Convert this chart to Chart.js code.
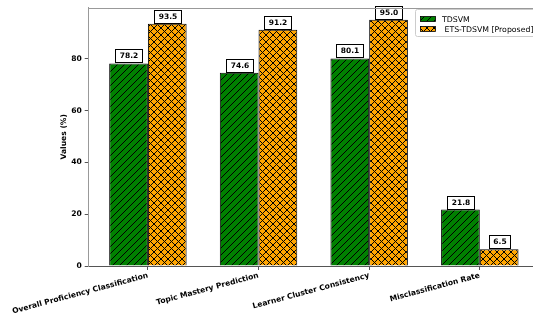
<!DOCTYPE html>
<html>
<head>
<meta charset="utf-8">
<script src="https://cdn.jsdelivr.net/npm/chart.js@4.4.1/dist/chart.umd.min.js"></script>
<style>
  html, body { margin: 0; padding: 0; background: #fff; overflow: hidden; }
  #wrap { width: 540px; height: 322px; position: relative; }
</style>
</head>
<body>
<div id="wrap"><canvas id="c"></canvas></div>
<script>
// Metric categories and the two model series (percent)
const categories = [
  'Overall Proficiency Classification',
  'Topic Mastery Prediction',
  'Learner Cluster Consistency',
  'Misclassification Rate'
];
const tdsvm = [78.2, 74.6, 80.1, 21.8];
const etsTdsvm = [93.5, 91.2, 95.0, 6.5];
const seriesNames = ['TDSVM', ' ETS-TDSVM [Proposed]'];
const yTicks = [0, 20, 40, 60, 80];

const FONT = '"DejaVu Sans", sans-serif';

// Hatched fill: diagonal "/" lines, optionally crossed with "\" lines
function hatch(bg, cross) {
  const s = 7;
  const c = document.createElement('canvas');
  c.width = s; c.height = s;
  const g = c.getContext('2d');
  g.fillStyle = bg;
  g.fillRect(0, 0, s, s);
  g.strokeStyle = '#000';
  g.lineWidth = 1;
  g.beginPath();
  g.moveTo(-1, s + 1); g.lineTo(s + 1, -1);
  g.moveTo(-1, 1); g.lineTo(1, -1);
  g.moveTo(s - 1, s + 1); g.lineTo(s + 1, s - 1);
  if (cross) {
    g.moveTo(-1, -1); g.lineTo(s + 1, s + 1);
    g.moveTo(-1, s - 1); g.lineTo(1, s + 1);
    g.moveTo(s - 1, -1); g.lineTo(s + 1, 1);
  }
  g.stroke();
  return g.createPattern(c, 'repeat');
}

const greenFill = hatch('#008000', false);
const orangeFill = hatch('#ffa500', true);

// Top/right spines of the axes box
const framePlugin = {
  id: 'frame',
  afterDraw(chart) {
    const { ctx, chartArea: a } = chart;
    ctx.save();
    ctx.strokeStyle = '#999';
    ctx.lineWidth = 1;
    ctx.beginPath();
    ctx.moveTo(a.left, Math.round(a.top) + 0.5);
    ctx.lineTo(a.right, Math.round(a.top) + 0.5);
    ctx.lineTo(a.right, a.bottom);
    ctx.stroke();
    ctx.restore();
  }
};

// Boxed value label above every bar
const valueLabels = {
  id: 'valueLabels',
  afterDatasetsDraw(chart) {
    const ctx = chart.ctx;
    ctx.save();
    ctx.font = 'bold 7.5px ' + FONT;
    ctx.textAlign = 'center';
    ctx.textBaseline = 'middle';
    chart.data.datasets.forEach((ds, di) => {
      chart.getDatasetMeta(di).data.forEach((bar, i) => {
        const txt = ds.data[i].y.toFixed(1);
        const w = Math.round(ctx.measureText(txt).width + 8);
        const h = 13;
        const x0 = Math.round(bar.x - w / 2) + 0.5;
        const y0 = Math.round(bar.y - 1 - h) + 0.5;
        ctx.fillStyle = '#fff';
        ctx.fillRect(x0, y0, w, h);
        ctx.strokeStyle = '#000';
        ctx.lineWidth = 1;
        ctx.strokeRect(x0, y0, w, h);
        ctx.fillStyle = '#000';
        ctx.fillText(txt, x0 + w / 2, y0 + h / 2 + 0.5);
      });
    });
    ctx.restore();
  }
};

// Legend in the upper right corner of the plot
const cornerLegend = {
  id: 'cornerLegend',
  afterDraw(chart) {
    const ctx = chart.ctx;
    const a = chart.chartArea;
    const x = a.right - 124, y = a.top + 1.5;
    ctx.save();
    ctx.fillStyle = 'rgba(255,255,255,0.85)';
    ctx.strokeStyle = '#ccc';
    ctx.lineWidth = 1;
    ctx.beginPath();
    ctx.roundRect(Math.round(x) + 0.5, Math.round(y) + 0.5, 130, 27, 2);
    ctx.fill();
    ctx.stroke();
    const fills = [greenFill, orangeFill];
    ctx.font = '7.8px ' + FONT;
    ctx.textBaseline = 'middle';
    ctx.textAlign = 'left';
    seriesNames.forEach((name, i) => {
      const sy = Math.round(y + 7 + i * 10) + 0.5;
      const sx = Math.round(x + 5) + 0.5;
      ctx.fillStyle = fills[i];
      ctx.fillRect(sx, sy, 15, 5);
      ctx.strokeStyle = '#000';
      ctx.lineWidth = 0.8;
      ctx.strokeRect(sx, sy, 15, 5);
      ctx.fillStyle = '#000';
      ctx.fillText(name, x + 27, sy + 3);
    });
    ctx.restore();
  }
};

const tickFont = { family: FONT, size: 7.6, weight: 'bold' };

new Chart(document.getElementById('c'), {
  type: 'bar',
  data: {
    datasets: [
      {
        label: seriesNames[0],
        data: tdsvm.map((v, i) => ({ x: i, y: v })),
        backgroundColor: greenFill,
        borderColor: '#000',
        borderWidth: 1
      },
      {
        label: seriesNames[1],
        data: etsTdsvm.map((v, i) => ({ x: i, y: v })),
        backgroundColor: orangeFill,
        borderColor: '#000',
        borderWidth: 1
      }
    ]
  },
  options: {
    responsive: true,
    maintainAspectRatio: false,
    animation: false,
    events: [],
    datasets: { bar: { categoryPercentage: 0.7, barPercentage: 1.0 } },
    layout: { padding: { left: 0, right: 1, top: 4, bottom: 0 } },
    plugins: { legend: { display: false }, tooltip: { enabled: false } },
    scales: {
      x: {
        type: 'linear',
        min: -0.535,
        max: 3.535,
        offset: false,
        afterBuildTicks: s => { s.ticks = categories.map((c, i) => ({ value: i })); },
        afterFit: s => { s.height = 56; },
        ticks: {
          callback: v => categories[v],
          minRotation: 15,
          maxRotation: 15,
          autoSkip: false,
          font: tickFont,
          color: '#000',
          padding: 1
        },
        grid: { offset: false, drawOnChartArea: false, drawTicks: true, tickLength: 4, color: '#555' },
        border: { display: true, color: '#555', width: 1 }
      },
      y: {
        min: 0,
        max: 99.75,
        afterBuildTicks: s => { s.ticks = yTicks.map(v => ({ value: v })); },
        afterFit: s => { s.width = 87; },
        ticks: { font: tickFont, color: '#000', padding: 3 },
        grid: { drawOnChartArea: false, drawTicks: true, tickLength: 4, color: '#555' },
        border: { display: true, color: '#999', width: 1 },
        title: {
          display: true,
          text: 'Values (%)',
          font: { family: FONT, size: 7.6, weight: 'bold' },
          color: '#000',
          padding: { top: 58, bottom: 0 }
        }
      }
    }
  },
  plugins: [framePlugin, valueLabels, cornerLegend]
});
</script>
</body>
</html>
